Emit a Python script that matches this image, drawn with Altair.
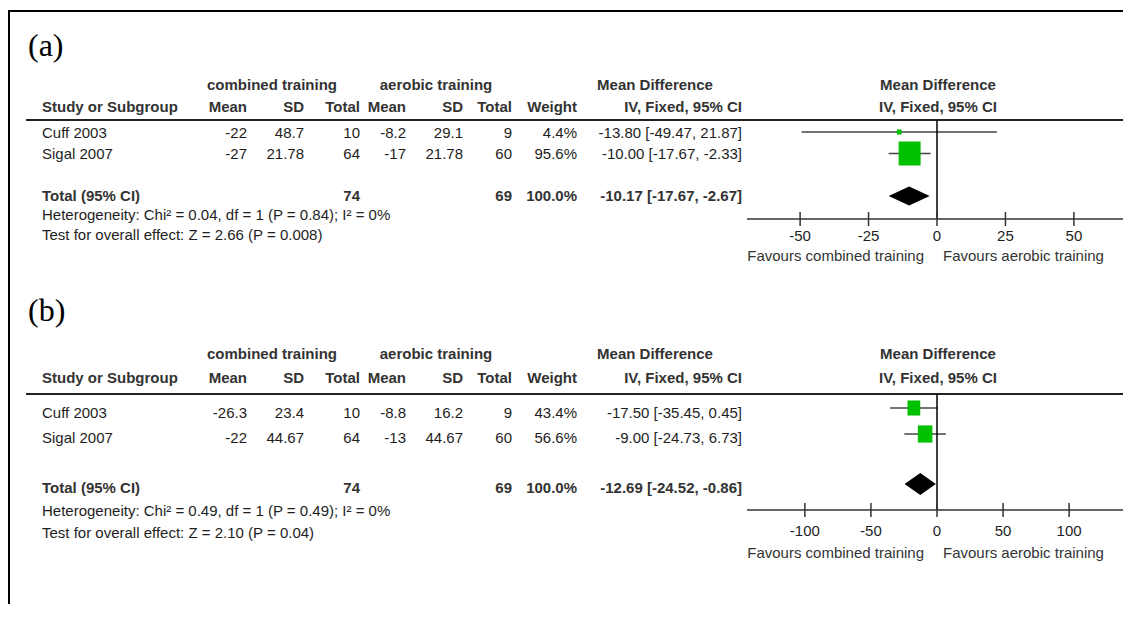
import altair as alt
import pandas as pd

# ---------------- data ----------------
studies = ["Cuff 2003", "Sigal 2007"]
total_label = "Total (95% CI)"
panel_labels = ["(a)", "(b)"]
group_labels = ["combined training", "aerobic training"]
col_headers = ["Study or Subgroup", "Mean", "SD", "Total", "Mean", "SD", "Total", "Weight", "IV, Fixed, 95% CI"]
md_header = ["Mean Difference", "IV, Fixed, 95% CI"]
favours = ["Favours combined training", "Favours aerobic training"]

# panel (a)
a_comb_mean = [-22, -27]
a_comb_sd = [48.7, 21.78]
a_comb_n = [10, 64]
a_aer_mean = [-8.2, -17]
a_aer_sd = [29.1, 21.78]
a_aer_n = [9, 60]
a_weight = [4.4, 95.6]
a_md = [-13.80, -10.00]
a_lo = [-49.47, -17.67]
a_hi = [21.87, -2.33]
a_total_n = [74, 69]
a_total_ci = [-10.17, -17.67, -2.67]
a_het = "Heterogeneity: Chi² = 0.04, df = 1 (P = 0.84); I² = 0%"
a_test = "Test for overall effect: Z = 2.66 (P = 0.008)"
a_ticks = [-50, -25, 0, 25, 50]

# panel (b)
b_comb_mean = [-26.3, -22]
b_comb_sd = [23.4, 44.67]
b_comb_n = [10, 64]
b_aer_mean = [-8.8, -13]
b_aer_sd = [16.2, 44.67]
b_aer_n = [9, 60]
b_weight = [43.4, 56.6]
b_md = [-17.50, -9.00]
b_lo = [-35.45, -24.73]
b_hi = [0.45, 6.73]
b_total_n = [74, 69]
b_total_ci = [-12.69, -24.52, -0.86]
b_het = "Heterogeneity: Chi² = 0.49, df = 1 (P = 0.49); I² = 0%"
b_test = "Test for overall effect: Z = 2.10 (P = 0.04)"
b_ticks = [-100, -50, 0, 50, 100]

# ---------------- layout (page pixels) ----------------
W, H = 1115, 596
OX, OY = 8, 8
SANS = "Liberation Sans"
SERIF = "Liberation Serif"
FS = 15
COL_X = [42, 247, 304, 360, 406, 463, 512, 577, 742]
GROUP_X = [272, 436]
MDH_X = 655
PLOT_HX = 938
PLOT_RANGE = [747 - OX, 1127 - OX]
FAV_X = [924, 943]

P = {
    "a": dict(lab=46, h1=85, h2=107, line=120, rows=[132, 153.5], trows=[133, 154], total=196,
              ttotal=195.5, het=215, test=235, axis=219, ticklab=236, fav=256,
              dmax=69.4, dhalf=9.5, smax=506, aspect=1.09),
    "b": dict(lab=311, h1=354, h2=378, line=394, rows=[408, 434], trows=[413, 438], total=484,
              ttotal=488, het=511, test=533, axis=510, ticklab=531, fav=553,
              dmax=143.8, dhalf=11, smax=375, aspect=1.18),
}

DATA = {
    "a": dict(cm=a_comb_mean, csd=a_comb_sd, cn=a_comb_n, am=a_aer_mean, asd=a_aer_sd, an=a_aer_n,
              w=a_weight, md=a_md, lo=a_lo, hi=a_hi, tn=a_total_n, tci=a_total_ci, het=a_het,
              test=a_test, ticks=a_ticks),
    "b": dict(cm=b_comb_mean, csd=b_comb_sd, cn=b_comb_n, am=b_aer_mean, asd=b_aer_sd, an=b_aer_n,
              w=b_weight, md=b_md, lo=b_lo, hi=b_hi, tn=b_total_n, tci=b_total_ci, het=b_het,
              test=b_test, ticks=b_ticks),
}


def ci_text(m, l, h):
    return f"{m:.2f} [{l:.2f}, {h:.2f}]"


cells = []


def cell(text, x, y, align, bold):
    cells.append(dict(text=str(text), px=x - OX, py=y - OY, al=align, bd=bold))


for key in ["a", "b"]:
    d, L = DATA[key], P[key]
    # header line 1
    cell(group_labels[0], GROUP_X[0], L["h1"], "center", True)
    cell(group_labels[1], GROUP_X[1], L["h1"], "center", True)
    cell(md_header[0], MDH_X, L["h1"], "center", True)
    cell(md_header[0], PLOT_HX, L["h1"], "center", True)
    # header line 2
    for i, h in enumerate(col_headers):
        cell(h, COL_X[i], L["h2"], "left" if i == 0 else "right", True)
    cell(md_header[1], PLOT_HX, L["h2"], "center", True)
    # study rows
    for j, s in enumerate(studies):
        y = L["trows"][j]
        vals = [s, d["cm"][j], d["csd"][j], d["cn"][j], d["am"][j], d["asd"][j], d["an"][j],
                f"{d['w'][j]:.1f}%", ci_text(d["md"][j], d["lo"][j], d["hi"][j])]
        for i, v in enumerate(vals):
            cell(v, COL_X[i], y, "left" if i == 0 else "right", False)
    # total row
    y = L["ttotal"]
    cell(total_label, COL_X[0], y, "left", True)
    cell(d["tn"][0], COL_X[3], y, "right", True)
    cell(d["tn"][1], COL_X[6], y, "right", True)
    cell(f"{sum(d['w']):.1f}%", COL_X[7], y, "right", True)
    cell(ci_text(*d["tci"]), COL_X[8], y, "right", True)
    cell(d["het"], COL_X[0], L["het"], "left", False)
    cell(d["test"], COL_X[0], L["test"], "left", False)

cells_df = pd.DataFrame(cells)

text_layers = []
for align in ["left", "right", "center"]:
    for bold in [False, True]:
        sub = cells_df[(cells_df["al"] == align) & (cells_df["bd"] == bold)]
        if len(sub) == 0:
            continue
        text_layers.append(
            alt.Chart(sub).mark_text(
                align=align, baseline="middle", font=SANS, fontSize=FS,
                fontWeight="bold" if bold else "normal",
                color="#333333" if bold else "#1e1e1e",
            ).encode(
                x=alt.X("px:Q", scale=None),
                y=alt.Y("py:Q", scale=None),
                text="text:N",
            )
        )

# panel letters
lab_df = pd.DataFrame({"text": panel_labels, "py": [P["a"]["lab"] - OY, P["b"]["lab"] - OY]})
lab_layer = alt.Chart(lab_df).mark_text(
    align="left", baseline="middle", font=SERIF, fontSize=32, color="black"
).encode(x=alt.value(28 - OX), y=alt.Y("py:Q", scale=None), text="text:N")

# frame (top and left edges)
frame_top = alt.Chart(pd.DataFrame({"k": [0]})).mark_rule(color="black", strokeWidth=2).encode(
    x=alt.value(0), x2=alt.value(W), y=alt.value(3))
frame_left = alt.Chart(pd.DataFrame({"k": [0]})).mark_rule(color="black", strokeWidth=2).encode(
    x=alt.value(1), y=alt.value(3), y2=alt.value(H))

# header underlines
hl_df = pd.DataFrame({"py": [P["a"]["line"] - OY, P["b"]["line"] - OY]})
hl_layer = alt.Chart(hl_df).mark_rule(color="#222222", strokeWidth=2).encode(
    x=alt.value(26 - OX), x2=alt.value(W), y=alt.Y("py:Q", scale=None))


def rect_shape(aspect):
    a = f"{aspect:.3f}"
    return f"M-1,-{a}L1,-{a}L1,{a}L-1,{a}Z"


def forest(key):
    d, L = DATA[key], P[key]
    xs = alt.Scale(domain=[-L["dmax"], L["dmax"]], range=PLOT_RANGE, nice=False, zero=False)
    st = pd.DataFrame({"study": studies, "md": d["md"], "lo": d["lo"], "hi": d["hi"], "w": d["w"],
                       "py": [r - OY for r in L["rows"]]})
    ci = alt.Chart(st).mark_rule(color="#444444", strokeWidth=1.5).encode(
        x=alt.X("lo:Q", scale=xs, axis=None), x2="hi:Q", y=alt.Y("py:Q", scale=None))
    sq = alt.Chart(st).mark_point(shape=rect_shape(L["aspect"]), filled=True, color="#00c000",
                                  opacity=1, strokeWidth=0).encode(
        x=alt.X("md:Q", scale=xs, axis=None), y=alt.Y("py:Q", scale=None),
        size=alt.Size("w:Q", scale=alt.Scale(domain=[0, 100], range=[0, L["smax"]]), legend=None))
    est, lo, hi = d["tci"]
    c, h = L["total"] - OY, L["dhalf"]
    dia_df = pd.DataFrame({"vx": [lo, est, hi], "yt": [c, c - h, c], "yb": [c, c + h, c]})
    dia = alt.Chart(dia_df).mark_area(color="black", orient="vertical", opacity=1).encode(
        x=alt.X("vx:Q", scale=xs, axis=None), y=alt.Y("yt:Q", scale=None), y2="yb:Q")
    zero = alt.Chart(pd.DataFrame({"v": [0]})).mark_rule(color="black", strokeWidth=1.5).encode(
        x=alt.X("v:Q", scale=xs, axis=None), y=alt.value(L["line"] - OY), y2=alt.value(L["axis"] - OY))
    ax = alt.Chart(pd.DataFrame({"lo": [-L["dmax"]], "hi": [L["dmax"]]})).mark_rule(
        color="#333333", strokeWidth=1.5).encode(
        x=alt.X("lo:Q", scale=xs, axis=None), x2="hi:Q", y=alt.value(L["axis"] - OY))
    tk_df = pd.DataFrame({"t": d["ticks"], "lab": [str(t) for t in d["ticks"]]})
    tk = alt.Chart(tk_df).mark_rule(color="#333333", strokeWidth=1.5).encode(
        x=alt.X("t:Q", scale=xs, axis=None), y=alt.value(L["axis"] - 7 - OY), y2=alt.value(L["axis"] + 7 - OY))
    tl = alt.Chart(tk_df).mark_text(font=SANS, fontSize=FS, color="#1e1e1e", baseline="middle", align="center").encode(
        x=alt.X("t:Q", scale=xs, axis=None), y=alt.value(L["ticklab"] - OY), text="lab:N")
    fav_l = alt.Chart(pd.DataFrame({"t": [favours[0]]})).mark_text(
        font=SANS, fontSize=FS, color="#333333", baseline="middle", align="right").encode(
        x=alt.value(FAV_X[0] - OX), y=alt.value(L["fav"] - OY), text="t:N")
    fav_r = alt.Chart(pd.DataFrame({"t": [favours[1]]})).mark_text(
        font=SANS, fontSize=FS, color="#333333", baseline="middle", align="left").encode(
        x=alt.value(FAV_X[1] - OX), y=alt.value(L["fav"] - OY), text="t:N")
    return alt.layer(ci, zero, ax, tk, tl, sq, dia, fav_l, fav_r)


chart = alt.layer(
    frame_top, frame_left, hl_layer, lab_layer, *text_layers, forest("a"), forest("b")
).resolve_scale(x="independent", size="independent").properties(
    width=W, height=H, autosize=alt.AutoSizeParams(type="none"), padding=0
).configure_view(stroke=None)

chart.save("out.html", embed_options={"renderer": "svg", "actions": False})
